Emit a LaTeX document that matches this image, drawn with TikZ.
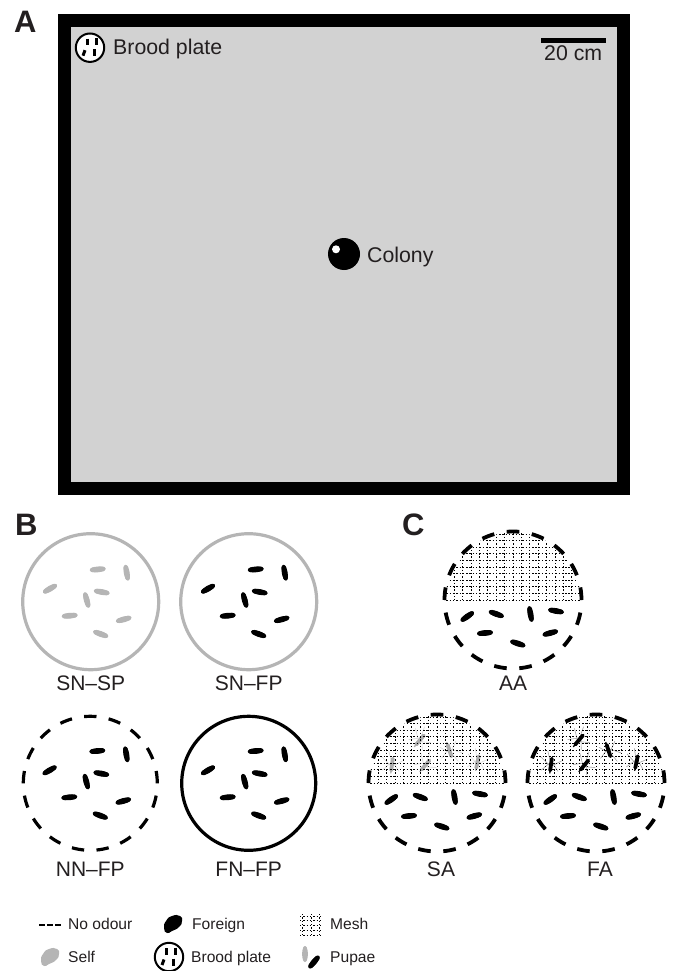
\documentclass[tikz,border=0pt]{standalone}
\usepackage{fontspec}
\setmainfont{Liberation Sans}
\definecolor{ink}{HTML}{231F20}
\definecolor{arena}{HTML}{D2D2D2}
\definecolor{selfgray}{HTML}{B5B5B5}
\tikzset{
  lab/.style={anchor=base west,inner sep=0pt,text=ink,font=\fontsize{21.3}{25}\selectfont},
  clab/.style={anchor=base,inner sep=0pt,text=ink,font=\fontsize{21}{25}\selectfont},
  leg/.style={anchor=base west,inner sep=0pt,text=ink,font=\fontsize{15.6}{18}\selectfont},
  panel/.style={anchor=base west,inner sep=0pt,text=ink,font=\fontsize{31}{34}\selectfont\bfseries},
  meshline/.style={black,line width=1,dash pattern=on 1.4 off 1.9},
  ringline/.style={line width=3.2,fill=white},
  broodtick/.style={line width=3,black},
  pupabody/.style={line width=4.8,line cap=round},
}
% one pupa: centre x, y, angle, colour
\newcommand\onepupa[4]{%
  \begin{scope}[shift={(#1,#2)},rotate=#3]
    \draw[pupabody,#4] (-5.2,0) -- (5.2,0);
    \fill[#4] (0,0) ellipse[x radius=8,y radius=2.9];
  \end{scope}}
% eight pupae of panel B
\newcommand\pupaeB[3]{%
  \foreach \dx/\dy/\ang in {7/-32.3/-5,36/-29/80,-40.7/-13/-30,11/-9.7/10,-4/-1.7/75,-21/14/-5,33/17.7/-15,10/32.3/20}{
    \pgfmathsetmacro\px{#1+\dx}\pgfmathsetmacro\py{#2+\dy}\pgfmathsetmacro\pa{-\ang}
    \onepupa{\px}{\py}{\pa}{#3}
  }}
% seven pupae of panel C
\newcommand\pupaeC[2]{%
  \foreach \dx/\dy/\ang in {-45.7/16.5/-35,-16.7/14/20,17.5/14/80,43/11/10,-28/33/-5,37.3/33/-15,4.8/43.5/18}{
    \pgfmathsetmacro\px{#1+\dx}\pgfmathsetmacro\py{#2+\dy}\pgfmathsetmacro\pa{-\ang}
    \onepupa{\px}{\py}{\pa}{black}
  }}
% dashed ring: x, y, radius, width
\newcommand\dashring[4]{%
  \foreach \k in {0,...,16}{
    \pgfmathsetmacro\aa{-90+\k*360/17}
    \draw[black,line width=#4] plot[smooth,domain=\aa-5.3:\aa+5.3,samples=5] ({#1+#3*cos(\x)},{#2+#3*sin(\x)});
  }}
% mesh on the upper half of a disc
\newcommand\meshhalf[2]{%
  \begin{scope}
    \clip ({#1-70},{#2-70}) rectangle ({#1+70},{#2+0.5});
    \clip (#1,#2) circle[radius=67.5];
    \foreach \i in {-8,...,8}{\draw[meshline] ({#1+\i*8.4},{#2-70}) -- ({#1+\i*8.4},{#2});}
    \foreach \j in {0,...,10}{\draw[meshline] ({#1-70},{#2-\j*6.6}) -- ({#1+70},{#2-\j*6.6});}
  \end{scope}}
% flies: x, y, body colour, wisp colour
\newcommand\flies[4]{%
  \foreach \dx/\dy/\ang in {-17/-43/-50,12.5/-32.5/72,-45/-18.5/-82,-11.5/-18/-50,40.5/-21/-78}{
    \begin{scope}[shift={({#1+\dx},{#2+\dy})},rotate=-\ang]
      \draw[#4,line width=0.6] (-2,0) -- (6,-11) (-2,0) -- (5,10) (3,0) -- (-7,-9) (3,0) -- (-6,8) (0,0) -- (13,-5);
      \draw[#3,line width=3.8,line cap=round] (-6,0) -- (6,0);
      \draw[#3,line width=1.2] (-6,0) -- (-9,0);
    \end{scope}
  }}
% brood plate icon
\newcommand\brood[2]{%
  \draw[black,line width=2,fill=white] (#1,#2) circle[radius=14.2];
  \draw[broodtick] ({#1-3},{#2-9}) -- ({#1-3},{#2-2.5});
  \draw[broodtick] ({#1+6.5},{#2-9.5}) -- ({#1+6.5},{#2-2.5});
  \draw[broodtick] ({#1+4.7},{#2+1.5}) -- ({#1+4.7},{#2+8.5});
  \draw[broodtick] ({#1-5},{#2+2.5}) -- ({#1-7},{#2+8});
}
% irregular odour blob
\newcommand\blob[3]{%
  \fill[#3] plot[smooth cycle,tension=1] coordinates {({#1-9},{#2+4}) ({#1-7},{#2-3}) ({#1-1},{#2-8}) ({#1+7},{#2-8}) ({#1+9},{#2-3}) ({#1+6},{#2+3}) ({#1-1},{#2+7}) ({#1-6},{#2+9})};
}
\begin{document}
\begin{tikzpicture}[x=1pt,y=-1pt]
\useasboundingbox (0,0) rectangle (674,971);
% Panel A
\node[panel] (pA) at (14,33) {A};
\draw[fill=arena,draw=black,line width=13] (64.5,20.2) rectangle (623.5,488);
\brood{90}{47.7}
\node[lab] (tBrood) at (113,54.5) {Brood plate};
\draw[black,line width=5] (541,40.3) -- (606,40.3);
\node[lab] (tScale) at (544,60.7) {20 cm};
\fill[black] (344,254) circle[radius=16];
\fill[white] (336,249.3) circle[radius=4];
\node[lab] (tColony) at (367,262.2) {Colony};
% Panel B
\node[panel] (pB) at (15,535) {B};
\draw[selfgray,ringline] (90.7,601.7) circle[radius=68];
\pupaeB{90.7}{601.7}{selfgray}
\draw[selfgray,ringline] (248.7,601.7) circle[radius=68];
\pupaeB{248.7}{601.7}{black}
\node[clab] (tSNSP) at (90.7,690) {SN–SP};
\node[clab] (tSNFP) at (248.7,690) {SN–FP};
\dashring{90.3}{783.3}{67}{3.2}
\pupaeB{90.3}{783.3}{black}
\draw[black,ringline] (248.7,783.3) circle[radius=67];
\pupaeB{248.7}{783.3}{black}
\node[clab] (tNNFP) at (90.3,876.7) {NN–FP};
\node[clab] (tFNFP) at (248.7,876.7) {FN–FP};
% Panel C
\node[panel] (pC) at (402,535) {C};
\meshhalf{513}{600}
\dashring{513}{600}{68.5}{3.8}
\pupaeC{513}{600}
\node[clab] (tAA) at (513,690) {AA};
\flies{437}{783}{black!32}{black!14}
\meshhalf{437}{783}
\dashring{437}{783}{68.5}{3.8}
\pupaeC{437}{783}
\node[clab] (tSA) at (441,876.7) {SA};
\flies{596}{783}{black}{black!35}
\meshhalf{596}{783}
\dashring{596}{783}{68.5}{3.8}
\pupaeC{596}{783}
\node[clab] (tFA) at (600,876.7) {FA};
% Legend
\draw[black,line width=2,dash pattern=on 6 off 2] (39,925) -- (61,925);
\node[leg] (lNo) at (68,929.3) {No odour};
\blob{173}{924}{black}
\node[leg] (lFor) at (192,929.3) {Foreign};
\foreach \mx in {302.7,311,319.3}{\draw[meshline] (\mx,914) -- (\mx,937);}
\foreach \my in {916,920.7,925.3,930,935}{\draw[meshline] (300,\my) -- (323,\my);}
\node[leg] (lMesh) at (330,929.3) {Mesh};
\blob{50}{957}{selfgray}
\node[leg] (lSelf) at (68,962) {Self};
\brood{169}{957}
\node[leg] (lBrood) at (191,962) {Brood plate};
\onepupa{305}{954}{90}{selfgray}
\onepupa{314}{962}{50}{black}
\node[leg] (lPup) at (330,962) {Pupae};
\end{tikzpicture}
\end{document}
